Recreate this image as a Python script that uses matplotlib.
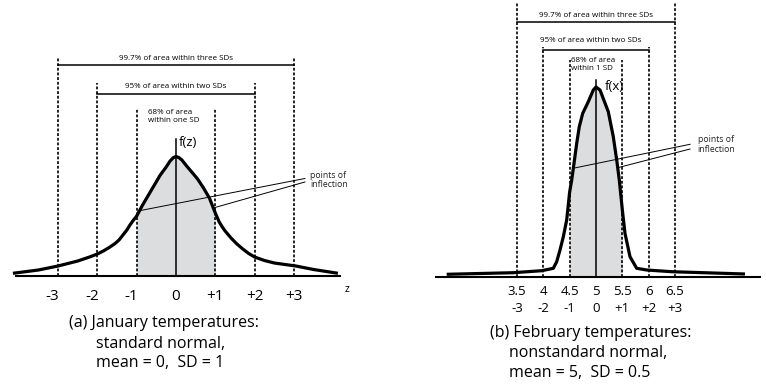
import matplotlib.pyplot as plt
import numpy as np

plt.rcParams['font.family'] = ['Open Sans', 'DejaVu Sans']

# (a) standard normal: z and curve height
z_pts = [-4.15, -3.5, -3.0, -2.5, -2.2, -2.0, -1.85, -1.7, -1.55, -1.45, -1.35,
         -1.25, -1.18, -1.1, -1.0, -0.85, -0.7, -0.55, -0.4, -0.25, -0.15, -0.07,
         0.0, 0.07, 0.15, 0.25, 0.4, 0.55, 0.7, 0.85, 1.0, 1.1, 1.17, 1.25, 1.4,
         1.55, 1.7, 1.85, 2.0, 2.25, 2.5, 3.05, 3.5, 4.12]
fz_pts = [2.7, 6, 10, 15, 19, 22, 25, 28.5, 32.5, 36, 41,
          46, 50.5, 55, 60, 71, 81, 91, 101, 109, 115, 118.3,
          119.5, 118.5, 116, 111, 104, 97, 88, 78, 63, 54, 49.5, 45, 38,
          32, 27, 22.5, 19, 15.5, 13, 10, 6.5, 2.7]
z_ticks = [-3, -2, -1, 0, 1, 2, 3]
z_labels = ['-3', '-2', '-1', '0', '+1', '+2', '+3']

# (b) nonstandard normal, mean 5, SD 0.5
x_pts = [2.167, 3.431, 3.970, 4.190, 4.254, 4.317, 4.380, 4.444, 4.500, 4.539,
         4.583, 4.634, 4.683, 4.748, 4.854, 4.949, 5.0, 5.076, 5.233, 5.328,
         5.393, 5.442, 5.500, 5.550, 5.645, 5.772, 5.962, 6.436, 7.827]
fx_pts = [2.7, 4.3, 6.3, 8.7, 15.3, 27, 40.3, 57, 85, 97,
          113.7, 133.7, 150.3, 163.7, 175.3, 187, 190, 187, 165.3, 140.3,
          117, 97, 67, 43.7, 20.3, 8.7, 7, 5.3, 3]
x_ticks = [3.5, 4, 4.5, 5, 5.5, 6, 6.5]
x_labels = ['3.5', '4', '4.5', '5', '5.5', '6', '6.5']

fig = plt.figure(figsize=(7.66, 3.85), dpi=100)
gray = '#dcdddf'
dash = (0, (1.7, 1.1))

# ---------- left panel ----------
ax = fig.add_axes([0, 0, 0.5, 1])
ax.set_xlim(-176/39.3, (383-176)/39.3)
ax.set_ylim(-109, 276)
ax.axis('off')

z = np.array(z_pts)
fz = np.array(fz_pts)
inner = (z >= -1) & (z <= 1)
ax.fill_between(z, 0, fz, where=inner, color=gray, lw=0, zorder=1)
ax.plot([-4.07, 4.17], [0, 0], color='black', lw=1.5, zorder=3)
ax.plot(z, fz, color='black', lw=2.3, solid_capstyle='butt', solid_joinstyle='round', zorder=4)
ax.plot([0, 0], [0, 137], color='black', lw=1.1, zorder=3)
ax.text(0.08, 133, 'f(z)', fontsize=9.5, ha='left', va='center')

tops = {1: 167, 2: 193, 3: 219}
for k, top in tops.items():
    for s in (-1, 1):
        ax.plot([s*k, s*k], [0, top], color='black', lw=1.2, linestyle=dash, zorder=2)

ax.plot([-3, 3], [211, 211], color='black', lw=1.1)
ax.text(0, 218, '99.7% of area within three SDs', fontsize=5.8, ha='center', va='center')
ax.plot([-2, 2], [182, 182], color='black', lw=1.1)
ax.text(0, 189, '95% of area within two SDs', fontsize=5.8, ha='center', va='center')
ax.text(-0.70, 159, '68% of area\nwithin one SD', fontsize=5.8, ha='left', va='center',
        linespacing=1.2)

ax.plot([-0.967, 3.28], [65, 97.5], color='black', lw=0.7)
ax.plot([0.947, 3.28], [68, 94], color='black', lw=0.7)
ax.text(3.41, 96, 'points of\ninflection', fontsize=6.2, ha='left', va='center',
        linespacing=1.1, color='#222222')

for t, lab in zip(z_ticks, z_labels):
    off = -0.14 if lab.startswith('-') else 0
    ax.text(t + off, -24, lab, fontsize=11, ha='center', va='baseline')
ax.text(4.35, -14, 'z', fontsize=7.5, ha='center', va='center')

ax.text(-2.72, -51, '(a) January temperatures:', fontsize=11.5, va='baseline')
ax.text(-2.04, -72, 'standard normal,', fontsize=11.5, va='baseline')
ax.text(-2.04, -91, 'mean = 0,  SD = 1', fontsize=11.5, va='baseline')

# ---------- right panel ----------
bx = fig.add_axes([0.5, 0, 0.5, 1])
bx.set_xlim(5 - (596-383)/52.7, 5 + (766-596)/52.7)
bx.set_ylim(-108, 277)
bx.axis('off')

x = np.array(x_pts)
fx = np.array(fx_pts)
inner = (x >= 4.5) & (x <= 5.5)
bx.fill_between(x, 0, fx, where=inner, color=gray, lw=0, zorder=1)
bx.plot([1.964, 8.112], [0, 0], color='black', lw=1.5, zorder=3)
bx.plot(x, fx, color='black', lw=2.3, solid_capstyle='butt', solid_joinstyle='round', zorder=4)
bx.plot([5, 5], [0, 197], color='black', lw=1.1, zorder=3)
bx.text(5.17, 190, 'f(x)', fontsize=9.5, ha='left', va='center')

tops = {0.5: 217, 1.0: 230, 1.5: 274}
for k, top in tops.items():
    for s in (-1, 1):
        bx.plot([5 + s*k, 5 + s*k], [0, top], color='black', lw=1.2, linestyle=dash, zorder=2)

bx.plot([3.5, 6.5], [255, 255], color='black', lw=1.1)
bx.text(5.0, 261.5, '99.7% of area within three SDs', fontsize=5.8, ha='center', va='center')
bx.plot([4, 6], [227, 227], color='black', lw=1.1)
bx.text(4.9, 237, '95% of area within two SDs', fontsize=5.8, ha='center', va='center')
bx.text(4.53, 212.5, '68% of area\nwithin 1 SD', fontsize=5.8, ha='left', va='center',
        linespacing=1.2)

bx.plot([4.565, 6.784], [108.7, 132.7], color='black', lw=0.7)
bx.plot([5.442, 6.784], [109.7, 128], color='black', lw=0.7)
bx.text(6.93, 132.5, 'points of\ninflection', fontsize=6.2, ha='left', va='center',
        linespacing=1.1, color='#222222')

for t, lab, zl in zip(x_ticks, x_labels, z_labels):
    bx.text(t, -18, lab, fontsize=9.5, ha='center', va='baseline')
    bx.text(t, -35, zl, fontsize=9.5, ha='center', va='baseline')

bx.text(2.99, -60, '(b) February temperatures:', fontsize=11.5, va='baseline')
bx.text(3.35, -80, 'nonstandard normal,', fontsize=11.5, va='baseline')
bx.text(3.35, -100, 'mean = 5,  SD = 0.5', fontsize=11.5, va='baseline')

fig.savefig('out.png', dpi=100)
